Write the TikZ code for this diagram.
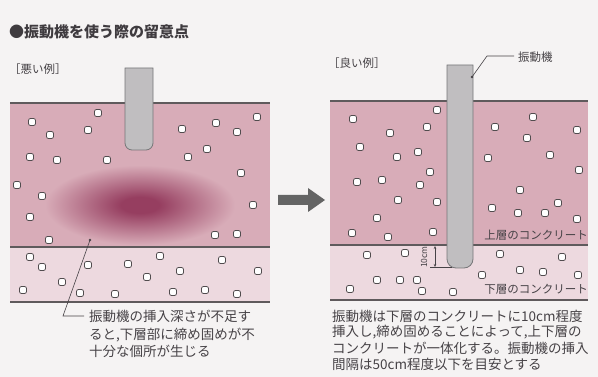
\documentclass[tikz,border=0pt]{standalone}
\usepackage{fontspec}
\newfontfamily\jp{Noto Sans CJK JP}
\usetikzlibrary{arrows.meta}

\definecolor{bgc}{RGB}{245,243,243}
\definecolor{upperc}{RGB}{216,172,184}
\definecolor{lowerc}{RGB}{237,217,223}
\definecolor{blobc}{RGB}{150,62,96}
\definecolor{linec}{RGB}{95,90,92}
\definecolor{vibfill}{RGB}{192,190,192}
\definecolor{vibline}{RGB}{118,118,120}
\definecolor{txtc}{RGB}{70,66,70}
\definecolor{arrowc}{RGB}{100,100,100}

% soft dark zone of poorly compacted concrete (path edge = 25bp)
\pgfdeclareradialshading{weakzone}{\pgfpoint{0bp}{0bp}}{%
  color(0bp)=(blobc); color(5bp)=(blobc); color(14bp)=(blobc!55!upperc); color(25bp)=(upperc); color(50bp)=(upperc)}

\tikzset{
  layerline/.style={draw=linec, line width=1.1pt},
  stone/.style={draw=linec!85!black, fill=white, line width=0.8pt, rounded corners=2pt,
                minimum size=7pt, inner sep=0pt, shape=rectangle},
  vibrator/.style={fill=vibfill, draw=vibline, line width=0.8pt},
  body/.style={font=\jp\fontsize{13.5}{15}\selectfont, text=txtc, inner sep=0pt, anchor=base west},
  label/.style={font=\jp\fontsize{11.5}{13}\selectfont, text=txtc, inner sep=0pt},
  leader/.style={draw=txtc, line width=0.6pt},
}

\begin{document}
\begin{tikzpicture}[x=1pt,y=-1pt]
\useasboundingbox (0,0) rectangle (598,377);
\fill[bgc] (0,0) rectangle (598,377);

% ---- headings
\node[font=\jp\bfseries\fontsize{15}{17}\selectfont, text=txtc!90!black, inner sep=0pt, anchor=west] (title) at (9,32) {●振動機を使う際の留意点};
\node[label, anchor=west] (bad) at (9,69) {［悪い例］};
\node[label, anchor=west] (good) at (328,63) {［良い例］};

% ---- left panel: insufficient insertion
\fill[upperc] (10,103) rectangle (270,247);
\fill[lowerc] (10,247) rectangle (270,302);
\begin{scope}
  \clip (10,103) rectangle (270,247);
  \shade[shading=weakzone] (140,205) ellipse [x radius=95, y radius=40];
\end{scope}
\draw[layerline] (10,103) -- (270,103);
\draw[layerline] (10,247) -- (270,247);
\draw[layerline] (10,302) -- (270,302);

\foreach \x/\y [count=\i] in {32/122,98/113,50/135,88/130,30/157,57/160,107/160,182/129,216/123,237/132,
  257/117,188/157,207/149,241/173,17/185,42/196,30/217,253/205,49/240,215/235,237/234,
  30/257,42/267,88/265,128/264,160/256,222/260,62/282,23/290,80/293,115/294,147/277,180/271,
  173/292,205/290,237/294,258/271}
  \node[stone] (ls\i) at (\x,\y) {};

\draw[vibrator] (125,68) -- (125,143) arc[start angle=180, end angle=90, radius=7]
  -- (146,150) arc[start angle=90, end angle=0, radius=7] -- (153,68) -- cycle;

\coordinate (lpt) at (90,240);
\coordinate (lbend) at (63,316);
\coordinate (lend) at (84,316);
\fill[txtc] (lpt) circle (1.3);
\draw[leader] (lpt) -- (lbend) -- (lend);
\node[body] (l1) at (89,322) {振動機の挿入深さが不足す};
\node[body] (l2) at (89,339) {ると,下層部に締め固めが不};
\node[body] (l3) at (89,356) {十分な個所が生じる};

% ---- arrow between panels
\fill[arrowc] (278,195) -- (308,195) -- (308,188) -- (325,200) -- (308,212) -- (308,205) -- (278,205) -- cycle;

% ---- right panel: proper insertion
\fill[upperc] (330,101) rectangle (588,245);
\fill[lowerc] (330,245) rectangle (588,300);
\draw[layerline] (330,101) -- (588,101);
\draw[layerline] (330,245) -- (588,245);
\draw[layerline] (330,300) -- (588,300);

\foreach \x/\y [count=\i] in {437/110,353/119,390/133,427/127,360/147,397/157,418/152,430/172,357/182,382/180,
  420/185,398/200,437/202,377/218,495/127,533/117,577/130,527/138,488/158,550/155,579/170,
  520/190,492/208,518/213,545/213,558/203,577/219,352/233,388/237,433/232,
  367/255,405/253,500/254,562/257,377/280,400/280,417/280,350/289,422/291,453/292,482/275,
  520/270,543/272,578/275}
  \node[stone] (rs\i) at (\x,\y) {};

\draw[vibrator] (447,65) -- (447,259) arc[start angle=180, end angle=90, radius=9]
  -- (464,268) arc[start angle=90, end angle=0, radius=9] -- (473,65) -- cycle;

% insertion depth into the lower layer
\coordinate (dtop) at (435,246);
\coordinate (dbot) at (435,267);
\coordinate (dext) at (452,267);
\draw[leader, {Stealth[length=3pt,width=2.5pt]}-{Stealth[length=3pt,width=2.5pt]}] (dtop) -- (dbot);
\draw[leader] (430,267) -- (dext);
\node[font=\jp\fontsize{8.5}{9}\selectfont, text=txtc, rotate=90, inner sep=0pt] (ten) at (424,257) {10cm};

\node[label, anchor=east] (up) at (588,235) {上層のコンクリート};
\node[label, anchor=east] (down) at (588,289) {下層のコンクリート};

\coordinate (vpt) at (472,77);
\coordinate (vbend) at (487,56);
\coordinate (vend) at (514,56);
\fill[txtc] (vpt) circle (1.3);
\draw[leader] (vpt) -- (vbend) -- (vend);
\node[label, anchor=west] (vib) at (518,57) {振動機};

\node[body] (r1) at (332,321) {振動機は下層のコンクリートに10cm程度};
\node[body] (r2) at (332,337) {挿入し,締め固めることによって,上下層の};
\node[body] (r3) at (332,353) {コンクリートが一体化する。振動機の挿入};
\node[body] (r4) at (332,369) {間隔は50cm程度以下を目安とする};
\end{tikzpicture}
\end{document}
